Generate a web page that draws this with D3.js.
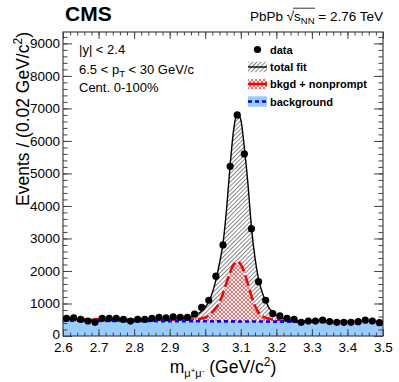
<!DOCTYPE html>
<html>
<head>
<meta charset="utf-8">
<script src="https://cdn.jsdelivr.net/npm/d3@7"></script>
<style>
  body { margin: 0; background: #fff; }
  svg { font-family: 'Liberation Sans', Arial, sans-serif; }
</style>
</head>
<body>
<script>
// ------- Data -------
const massBins = [2.61, 2.63, 2.65, 2.67, 2.69, 2.71, 2.73, 2.75, 2.77, 2.79,
                  2.81, 2.83, 2.85, 2.87, 2.89, 2.91, 2.93, 2.95, 2.97, 2.99,
                  3.01, 3.03, 3.05, 3.07, 3.09, 3.11, 3.13, 3.15, 3.17, 3.19,
                  3.21, 3.23, 3.25, 3.27, 3.29, 3.31, 3.33, 3.35, 3.37, 3.39,
                  3.41, 3.43, 3.45, 3.47, 3.49]
const eventCounts = [545, 560, 510, 460, 420, 545, 545, 545, 510, 460,
                     510, 510, 545, 575, 560, 590, 575, 575, 675, 880,
                     1100, 1840, 2800, 5220, 6800, 5600, 3300, 1670, 1100, 690,
                     620, 545, 510, 420, 460, 460, 490, 445, 420, 420,
                     420, 440, 490, 460, 410]

const fitMass = [2.60, 2.70, 2.80, 2.90, 2.94, 2.96, 2.98, 3.00, 3.01, 3.02,
                 3.03, 3.04, 3.05, 3.06, 3.07, 3.08, 3.09, 3.10, 3.11, 3.12,
                 3.13, 3.14, 3.15, 3.16, 3.17, 3.18, 3.19, 3.20, 3.22, 3.25,
                 3.30, 3.40, 3.50]
const totalFit = [518, 512, 510, 520, 540, 585, 680, 880, 1060, 1330,
                  1720, 2230, 2850, 3900, 5250, 6350, 6860, 6660, 5800, 4700,
                  3350, 2400, 1750, 1350, 1080, 860, 720, 630, 540, 480,
                  455, 440, 432]

const nonpromptMass = [2.60, 2.80, 2.90, 2.95, 2.98, 3.00, 3.02, 3.04, 3.05, 3.06,
                       3.07, 3.08, 3.09, 3.10, 3.11, 3.12, 3.13, 3.14, 3.15, 3.16,
                       3.17, 3.18, 3.20, 3.22, 3.25, 3.30, 3.40, 3.50]
const bkgdNonprompt = [515, 508, 505, 508, 525, 570, 730, 1030, 1300, 1650,
                       1960, 2200, 2280, 2200, 1960, 1600, 1230, 920, 720, 610,
                       560, 530, 495, 470, 455, 448, 440, 432]

const bkgMass = [2.60, 3.05, 3.50]
const background = [472, 450, 428]

const xTicks = [2.6, 2.7, 2.8, 2.9, 3.0, 3.1, 3.2, 3.3, 3.4, 3.5]
const yTicks = [0, 1000, 2000, 3000, 4000, 5000, 6000, 7000, 8000, 9000]

// ------- Layout -------
let width = 399
let height = 382
let plot = {left: 63, right: 383, top: 32, bottom: 336}

let svg = d3.select("body").append("svg")
    .attr("width", width)
    .attr("height", height)

let xScale = d3.scaleLinear().domain([2.6, 3.5]).range([plot.left, plot.right])
let yScale = d3.scaleLinear().domain([0, 9350]).range([plot.bottom, plot.top])

let defs = svg.append("defs")
defs.append("clipPath").attr("id", "frame")
    .append("rect")
    .attr("x", plot.left).attr("y", plot.top)
    .attr("width", plot.right - plot.left).attr("height", plot.bottom - plot.top)

// black "////" hatch for total fit
let hatch = defs.append("pattern")
    .attr("id", "hatch")
    .attr("patternUnits", "userSpaceOnUse")
    .attr("width", 3).attr("height", 3)
    .attr("patternTransform", "rotate(45)")
hatch.append("line")
    .attr("x1", 0).attr("y1", 0).attr("x2", 0).attr("y2", 3)
    .attr("stroke", "#111").attr("stroke-width", 1)

// red crosshatch for bkgd + nonprompt
let cross = defs.append("pattern")
    .attr("id", "cross")
    .attr("patternUnits", "userSpaceOnUse")
    .attr("width", 4).attr("height", 4)
cross.append("rect").attr("width", 4).attr("height", 4).attr("fill", "#fff")
cross.append("path")
    .attr("d", "M0,0L4,4M4,0L0,4")
    .attr("stroke", "#ff0000").attr("stroke-width", 0.6).attr("fill", "none")

let zip = (xs, ys) => xs.map((m, i) => ({m: m, v: ys[i]}))

let areaGen = d3.area()
    .x(d => xScale(d.m))
    .y0(yScale(0))
    .y1(d => yScale(d.v))
    .curve(d3.curveMonotoneX)
let lineGen = d3.line()
    .x(d => xScale(d.m))
    .y(d => yScale(d.v))
    .curve(d3.curveMonotoneX)

let curves = svg.append("g").attr("clip-path", "url(#frame)")

// total fit
curves.append("path")
    .datum(zip(fitMass, totalFit))
    .attr("d", areaGen)
    .attr("fill", "url(#hatch)")
curves.append("path")
    .datum(zip(fitMass, totalFit))
    .attr("d", lineGen)
    .attr("fill", "none")
    .attr("stroke", "#000")
    .attr("stroke-width", 1.4)

// bkgd + nonprompt
curves.append("path")
    .datum(zip(nonpromptMass, bkgdNonprompt))
    .attr("d", areaGen)
    .attr("fill", "url(#cross)")
curves.append("path")
    .datum(zip(nonpromptMass, bkgdNonprompt))
    .attr("d", lineGen)
    .attr("fill", "none")
    .attr("stroke", "#ff0000")
    .attr("stroke-width", 2.6)
    .attr("stroke-dasharray", "11,4")

// background
curves.append("path")
    .datum(zip(bkgMass, background))
    .attr("d", areaGen)
    .attr("fill", "#99ccff")
curves.append("path")
    .datum(zip(bkgMass, background))
    .attr("d", lineGen)
    .attr("fill", "none")
    .attr("stroke", "#0000ff")
    .attr("stroke-width", 2.6)
    .attr("stroke-dasharray", "4,3")

// ------- Axes (ticks point inward, as in ROOT) -------
let axisColor = "#444"
let xMinor = d3.range(2.6, 3.5001, 0.02)
let yMinor = d3.range(0, 9350, 200)
let fmtX = d => String(+d.toFixed(1))

function styleAxis(g){
  g.select(".domain").remove()
  g.selectAll("line").attr("stroke", axisColor).attr("stroke-width", 1)
}

svg.append("g")
   .attr("transform", "translate(0," + plot.bottom + ")")
   .call(d3.axisBottom(xScale).tickValues(xMinor).tickSize(-3.5).tickFormat(""))
   .call(styleAxis)
svg.append("g")
   .attr("transform", "translate(0," + plot.bottom + ")")
   .call(d3.axisBottom(xScale).tickValues(xTicks).tickSize(-7).tickPadding(6).tickFormat(fmtX))
   .call(styleAxis)
   .selectAll("text")
   .attr("font-size", 13.5).attr("fill", "#000")
   .attr("font-family", "'Liberation Sans', Arial, sans-serif")
svg.append("g")
   .attr("transform", "translate(0," + plot.top + ")")
   .call(d3.axisTop(xScale).tickValues(xMinor).tickSize(-3.5).tickFormat(""))
   .call(styleAxis)
svg.append("g")
   .attr("transform", "translate(0," + plot.top + ")")
   .call(d3.axisTop(xScale).tickValues(xTicks).tickSize(-7).tickFormat(""))
   .call(styleAxis)

svg.append("g")
   .attr("transform", "translate(" + plot.left + ",0)")
   .call(d3.axisLeft(yScale).tickValues(yMinor).tickSize(-4.5).tickFormat(""))
   .call(styleAxis)
svg.append("g")
   .attr("transform", "translate(" + plot.left + ",0)")
   .call(d3.axisLeft(yScale).tickValues(yTicks).tickSize(-9).tickPadding(3).tickFormat(d3.format("d")))
   .call(styleAxis)
   .selectAll("text")
   .attr("font-size", 13.5).attr("fill", "#000")
   .attr("font-family", "'Liberation Sans', Arial, sans-serif")
   .attr("dy", d => d === 0 ? "0.2em" : "0.32em")
svg.append("g")
   .attr("transform", "translate(" + plot.right + ",0)")
   .call(d3.axisRight(yScale).tickValues(yMinor).tickSize(-4.5).tickFormat(""))
   .call(styleAxis)
svg.append("g")
   .attr("transform", "translate(" + plot.right + ",0)")
   .call(d3.axisRight(yScale).tickValues(yTicks).tickSize(-9).tickFormat(""))
   .call(styleAxis)

svg.append("rect")
   .attr("x", plot.left).attr("y", plot.top)
   .attr("width", plot.right - plot.left).attr("height", plot.bottom - plot.top)
   .attr("fill", "none")
   .attr("stroke", axisColor)
   .attr("stroke-width", 1.2)

// ------- Data points -------
svg.append("g").selectAll("circle")
   .data(zip(massBins, eventCounts))
   .enter()
   .append("circle")
   .attr("cx", d => xScale(d.m))
   .attr("cy", d => yScale(d.v))
   .attr("r", 3.6)
   .attr("fill", "#000")

// ------- Titles -------
svg.append("text")
   .attr("x", 65).attr("y", 20.5)
   .attr("font-size", 21).attr("font-weight", "bold")
   .text("CMS")

let header = svg.append("text")
   .attr("x", plot.right).attr("y", 20.5)
   .attr("text-anchor", "end")
   .attr("font-size", 13.5)
header.append("tspan").text("PbPb \u221A")
header.append("tspan").text("s")
header.append("tspan").attr("font-size", 9.5).attr("dy", 3).text("NN")
header.append("tspan").attr("dy", -3).text(" = 2.76 TeV")
// overline of the square root
let hNode = header.node()
let s0 = hNode.getStartPositionOfChar(6)
let s1 = hNode.getEndPositionOfChar(8)
svg.append("line")
   .attr("x1", s0.x - 1).attr("x2", s1.x + 0.5)
   .attr("y1", 8.2).attr("y2", 8.2)
   .attr("stroke", "#000").attr("stroke-width", 0.8)

let info = svg.append("g").attr("font-size", 13)
info.append("text").attr("x", 79).attr("y", 54).text("|y| < 2.4")
let pt = info.append("text").attr("x", 79).attr("y", 73.5)
pt.append("tspan").text("6.5 < p")
pt.append("tspan").attr("font-size", 9.5).attr("dy", 3).text("T")
pt.append("tspan").attr("dy", -3).text(" < 30 GeV/c")
info.append("text").attr("x", 79).attr("y", 92).text("Cent. 0-100%")

// y title
let yTitle = svg.append("text")
   .attr("transform", "translate(28.5," + plot.top + ") rotate(-90)")
   .attr("text-anchor", "end")
   .attr("font-size", 17.5)
yTitle.append("tspan").text("Events / (0.02 GeV/c")
yTitle.append("tspan").attr("font-size", 12).attr("dy", -7).text("2")
yTitle.append("tspan").attr("dy", 7).text(")")

// x title
let xTitle = svg.append("text")
   .attr("x", (plot.left + plot.right) / 2).attr("y", 373)
   .attr("text-anchor", "middle")
   .attr("font-size", 17.5)
xTitle.append("tspan").text("m")
xTitle.append("tspan").attr("font-size", 11).attr("dy", 4).text("\u03BC")
xTitle.append("tspan").attr("font-size", 8).attr("dy", -4).text("+")
xTitle.append("tspan").attr("font-size", 11).attr("dy", 4).text("\u03BC")
xTitle.append("tspan").attr("font-size", 8).attr("dy", -4).text("-")
xTitle.append("tspan").attr("dy", 0).text(" (GeV/c")
xTitle.append("tspan").attr("font-size", 12).attr("dy", -7).text("2")
xTitle.append("tspan").attr("dy", 7).text(")")

// ------- Legend -------
let legend = svg.append("g").attr("font-size", 11).attr("font-weight", "bold")
let boxX = 248, boxW = 19, boxH = 10.5
let rows = [
  {label: "data", cy: 49.5},
  {label: "total fit", cy: 67},
  {label: "bkgd + nonprompt", cy: 84},
  {label: "background", cy: 101.5}
]
legend.selectAll("text")
      .data(rows)
      .enter()
      .append("text")
      .attr("x", 270)
      .attr("y", d => d.cy + 4)
      .text(d => d.label)

legend.append("circle").attr("cx", boxX + boxW / 2).attr("cy", rows[0].cy).attr("r", 3.6).attr("fill", "#000")

legend.append("rect").attr("x", boxX).attr("y", rows[1].cy - boxH / 2)
      .attr("width", boxW).attr("height", boxH).attr("fill", "url(#hatch)")
legend.append("line").attr("x1", boxX).attr("x2", boxX + boxW)
      .attr("y1", rows[1].cy).attr("y2", rows[1].cy)
      .attr("stroke", "#000").attr("stroke-width", 1.4)

legend.append("rect").attr("x", boxX).attr("y", rows[2].cy - boxH / 2)
      .attr("width", boxW).attr("height", boxH).attr("fill", "url(#cross)")
legend.append("line").attr("x1", boxX).attr("x2", boxX + boxW)
      .attr("y1", rows[2].cy).attr("y2", rows[2].cy)
      .attr("stroke", "#ff0000").attr("stroke-width", 2.6)

legend.append("rect").attr("x", boxX).attr("y", rows[3].cy - boxH / 2)
      .attr("width", boxW).attr("height", boxH).attr("fill", "#99ccff")
legend.append("line").attr("x1", boxX).attr("x2", boxX + boxW)
      .attr("y1", rows[3].cy).attr("y2", rows[3].cy)
      .attr("stroke", "#0000ff").attr("stroke-width", 2.6)
      .attr("stroke-dasharray", "4,3")
</script>
</body>
</html>
